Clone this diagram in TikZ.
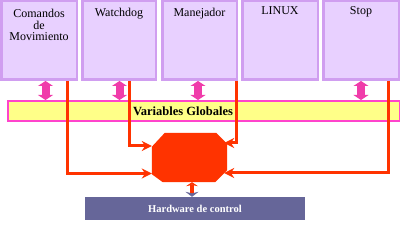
\documentclass[tikz,border=0pt]{standalone}
\usepackage{fontspec}
\setmainfont{Liberation Serif}
\usetikzlibrary{arrows.meta,calc}
\definecolor{boxfill}{RGB}{232,208,255}
\definecolor{boxline}{RGB}{208,158,240}
\definecolor{barfill}{RGB}{255,255,136}
\definecolor{barline}{RGB}{255,68,204}
\definecolor{redc}{RGB}{255,51,0}
\definecolor{pinkc}{RGB}{240,60,170}
\definecolor{hwc}{RGB}{102,102,153}
\begin{document}
\begin{tikzpicture}[x=1pt,y=-1pt,
  modbox/.style={draw=boxline,fill=boxfill,line width=2.5pt,minimum height=78.5pt,inner sep=0pt},
  lbl/.style={font=\fontsize{12}{11.7}\selectfont,align=center,anchor=base,inner sep=0pt},
  redarr/.style={draw=redc,line width=3pt,-{Stealth[length=10pt,width=10pt]}},
  pinkarr/.style={draw=pinkc,line width=8pt,{Triangle[length=5pt,width=15pt]}-{Triangle[length=5pt,width=15pt]}}]
\useasboundingbox (0,0) rectangle (400,235);
% modules
\node (b1) [modbox,minimum width=75.5pt] at (39,40.5) {};
\node (b2) [modbox,minimum width=73.5pt] at (119,40.5) {};
\node (b3) [modbox,minimum width=74.5pt] at (199.5,40.5) {};
\node (b4) [modbox,minimum width=75.5pt] at (280,40.5) {};
\node (b5) [modbox,minimum width=75.5pt] at (361,40.5) {};
\node (t1) [lbl] at (39,41) {Comandos\\de\\Movimiento};
\node (t2) [lbl] at (119,17) {Watchdog};
\node (t3) [lbl] at (199.5,17) {Manejador};
\node (t4) [lbl] at (280,15) {LINUX};
\node (t5) [lbl] at (361,15) {Stop};
% global variables bar
\node (vg) [draw=barline,fill=barfill,line width=2pt,minimum width=392pt,minimum height=20pt,inner sep=0pt] at (204,111) {};
\node (vgt) [font=\fontsize{12.5}{12}\selectfont\bfseries,inner sep=0pt] at (183,111) {Variables Globales};
% pink double arrows
\coordinate (p1) at ($(b1.south)+(6.5,0)$);
\coordinate (p2) at ($(b2.south)+(0.5,0)$);
\coordinate (p3) at ($(b3.south)+(-1.5,0)$);
\coordinate (p5) at ($(b5.south)+(0,0)$);
\draw[pinkarr] (p1) -- (p1 |- vg.north);
\draw[pinkarr] (p2) -- (p2 |- vg.north);
\draw[pinkarr] (p3) -- (p3 |- vg.north);
\draw[pinkarr] (p5) -- (p5 |- vg.north);
% central octagon
\node (oct) [minimum width=75pt,minimum height=49pt,inner sep=0pt] at (189.5,157.5) {};
\fill[redc] ($(oct.north west)+(13,0)$) -- ($(oct.north east)+(-11,0)$) -- ($(oct.north east)+(0,11)$)
  -- ($(oct.south east)+(0,-12)$) -- ($(oct.south east)+(-12,0)$) -- ($(oct.south west)+(11,0)$)
  -- ($(oct.south west)+(0,-8)$) -- ($(oct.north west)+(0,14)$) -- cycle;
% red connectors
\draw[redarr] ($(b1.south)+(28,0)$) |- ($(oct.west)+(0,16)$);
\draw[redarr] ($(b2.south)+(10,0)$) |- ($(oct.west)+(0,-11.5)$);
\draw[redarr] ($(b3.south)+(36.5,0)$) |- ($(oct.east)+(-3,-14.5)$);
\draw[redarr] ($(b5.south)+(27,0)$) |- ($(oct.east)+(-3,15.5)$);
% hardware
\node (hw) [fill=hwc,minimum width=220pt,minimum height=23pt,inner sep=0pt,
  font=\fontsize{10.5}{10}\selectfont\bfseries,text=white] at (195,208.5) {Hardware de control};
\draw[draw=redc,line width=3.5pt,{Stealth[length=4pt,width=12pt]}-{Stealth[length=5pt,width=13pt,color=hwc]}]
  ($(oct.south)+(2.5,0)$) -- ($(hw.north)+(-3,0)$);
\end{tikzpicture}
\end{document}
